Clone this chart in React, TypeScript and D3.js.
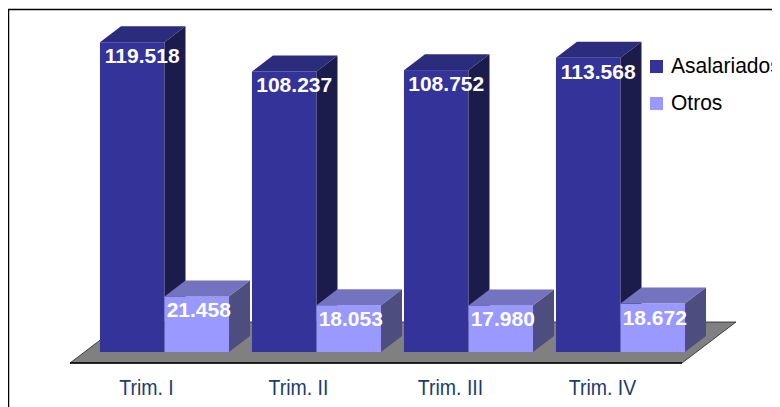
import React from 'react';
import * as d3 from 'd3';

const categories = ['Trim. I', 'Trim. II', 'Trim. III', 'Trim. IV'];
const asalariados = [119.518, 108.237, 108.752, 113.568];
const otros = [21.458, 18.053, 17.98, 18.672];
const seriesNames = ['Asalariados', 'Otros'];

const fmt = (v: number) => v.toFixed(3);

const FONT = '"Liberation Sans", Arial, sans-serif';
const DX = 21;
const DY = 16;

// front, top, side colours of each series
const palette = [
  { front: '#333399', top: '#2c2c7d', side: '#1c1c4c' },
  { front: '#9999ff', top: '#7373bf', side: '#4d4d80' },
];

const Bar3D = ({ x, w, y0, y1, colors }) => (
  <g>
    <rect x={x} y={y1} width={w} height={y0 - y1} fill={colors.front} />
    <polygon
      points={`${x},${y1} ${x + DX},${y1 - DY} ${x + w + DX},${y1 - DY} ${x + w},${y1}`}
      fill={colors.top}
    />
    <polygon
      points={`${x + w},${y1} ${x + w + DX},${y1 - DY} ${x + w + DX},${y0 - DY} ${x + w},${y0}`}
      fill={colors.side}
    />
  </g>
);

const App = () => {
  const x = d3
    .scaleBand<string>()
    .domain(categories)
    .range([88.5, 696.5])
    .paddingInner(0.151)
    .paddingOuter(0.0755);
  const y = d3.scaleLinear().domain([0, 120]).range([352, 41]);
  const bw = x.bandwidth() / 2;

  // floor (gray plane under bars)
  const fl = 70, fr = 682, fy = 363, fdx = 54, fdy = 41;

  const series = [asalariados, otros];

  return (
    <svg width={772} height={399} style={{ display: 'block', overflow: 'hidden' }}>
      <g transform="translate(-8,-8)">
        <rect x={0} y={0} width={800} height={420} fill="#fff" />
        <polygon
          points={`${fl},${fy} ${fr},${fy} ${fr + fdx},${fy - fdy} ${fl + fdx},${fy - fdy}`}
          fill="#808080"
          stroke="#222"
          strokeWidth={0.8}
        />
        <line x1={fl} x2={fr} y1={fy} y2={fy} stroke="#000" strokeWidth={1.5} />
        {categories.map((c, i) => (
          <g key={c}>
            {series.map((s, j) => {
              const bx = (x(c) as number) + j * bw;
              return (
                <Bar3D key={j} x={bx} w={bw} y0={y(0)} y1={y(s[i])} colors={palette[j]} />
              );
            })}
          </g>
        ))}
        {categories.map((c, i) => (
          <g key={'lab' + c}>
            {series.map((s, j) => {
              const bx = (x(c) as number) + j * bw;
              return (
                <text
                  key={j}
                  x={bx + bw / 2 + (j === 0 ? 10 : 2)}
                  y={y(s[i]) + 21}
                  textAnchor="middle"
                  fill="#fff"
                  fontFamily={FONT}
                  fontWeight="bold"
                  fontSize={21}
                >
                  {fmt(s[i])}
                </text>
              );
            })}
            <text
              transform={`translate(${(x(c) as number) + x.bandwidth() / 2 - 18},395) scale(1,1.15)`}
              textAnchor="middle"
              fill="#1a3d6d"
              fontFamily={FONT}
              fontSize={19.5}
            >
              {c}
            </text>
          </g>
        ))}
        {seriesNames.map((n, j) => (
          <g key={n} transform={`translate(650,${60 + j * 37})`}>
            <rect x={0} y={0} width={13} height={13} fill={palette[j].front} />
            <text
              transform="translate(21,12.5) scale(1,1.08)"
              fill="#000"
              fontFamily={FONT}
              fontSize={21}
            >
              {n}
            </text>
          </g>
        ))}
        <path d="M8.5,420 V9.5 H800" fill="none" stroke="#000" strokeWidth={1.5} />
      </g>
    </svg>
  );
};

export default App;
